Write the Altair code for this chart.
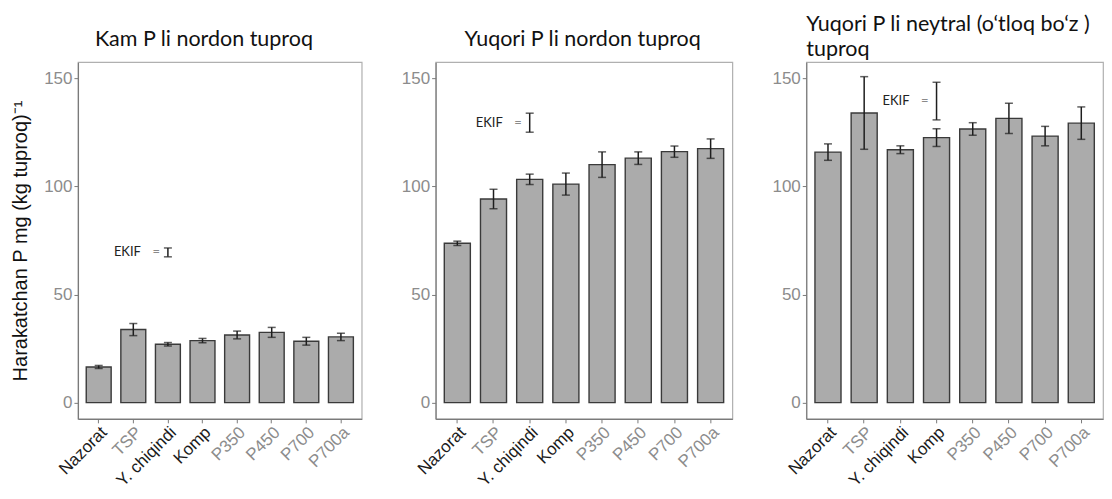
import altair as alt
import pandas as pd

# ---------------- data ----------------
categories = ["Nazorat", "TSP", "Y. chiqindi", "Komp", "P350", "P450", "P700", "P700a"]

panel_titles = [
    ["Kam P li nordon tuproq"],
    ["Yuqori P li nordon tuproq"],
    ["Yuqori P li neytral (o‘tloq bo‘z )", "tuproq"],
]

mean_low = [16.5, 33.8, 27.0, 28.7, 31.3, 32.5, 28.4, 30.4]
err_low = [0.7, 2.8, 0.8, 1.0, 1.8, 2.3, 1.8, 1.7]

mean_high = [73.7, 94.2, 103.3, 101.1, 110.1, 113.1, 116.1, 117.5]
err_high = [1.0, 4.5, 2.4, 5.1, 5.9, 2.9, 2.6, 4.5]

mean_neutral = [115.9, 134.0, 117.0, 122.6, 126.6, 131.5, 123.3, 129.3]
err_neutral = [3.8, 16.8, 1.8, 4.1, 2.9, 7.0, 4.5, 7.5]

ekif_cat = ["Y. chiqindi", "Y. chiqindi", "Komp"]
ekif_center = [69.5, 129.5, 139.5]
ekif_lsd = [4.1, 8.8, 17.4]

y_ticks = [0, 50, 100, 150]
y_title = "Harakatchan P mg (kg tuproq)⁻¹"

# ---------------- styling ----------------
panel_width = [284, 297, 297]
panel_height = 357
title_dx = [17, 29, 0]
title_dy = [10, 10, 20]

AX_FONT = "Liberation Sans"
TXT_FONT = "Lato"
label_color_expr = (
    "indexof(['Nazorat','Y. chiqindi','Komp'], datum.value) >= 0 ? '#1a1a1a' : '#8c8c8c'"
)


def make_panel(i, means, errs):
    df = pd.DataFrame({
        "cat": categories,
        "mean": means,
        "lo": [m - e for m, e in zip(means, errs)],
        "hi": [m + e for m, e in zip(means, errs)],
    })
    e = ekif_center[i]
    h = ekif_lsd[i] / 2
    de = pd.DataFrame({
        "cat": [ekif_cat[i]],
        "center": [e],
        "lo": [e - h],
        "hi": [e + h],
        "lab": ["EKIF"],
        "eq": ["="],
    })

    x = alt.X(
        "cat:N",
        sort=categories,
        scale=alt.Scale(paddingInner=0.28, paddingOuter=0.24),
        axis=alt.Axis(
            title=None,
            labelAngle=-45,
            labelAlign="right",
            labelBaseline="top",
            labelColor={"expr": label_color_expr},
            labelFontSize=17,
            labelPadding=1,
        ),
    )
    yscale = alt.Scale(domain=[-7.5, 157.5], nice=False, zero=False)
    yaxis = alt.Axis(
        values=y_ticks,
        grid=False,
        title=y_title if i == 0 else None,
        titleFont=AX_FONT,
        titleFontSize=20,
        titleFontWeight="normal",
        titleColor="#111111",
        titlePadding=11,
        minExtent=36,
        maxExtent=36,
    )

    bars = alt.Chart(df).mark_bar(
        fill="#ababab", stroke="#3a3a3a", strokeWidth=1.4
    ).encode(
        x=x,
        y=alt.Y("mean:Q", scale=yscale, axis=yaxis),
        y2=alt.datum(0),
    )
    rules = alt.Chart(df).mark_rule(color="#1e1e1e", strokeWidth=1.5).encode(
        x=alt.X("cat:N", sort=categories),
        y="lo:Q",
        y2="hi:Q",
    )
    caps = alt.Chart(df).transform_fold(["lo", "hi"], as_=["k", "v"]).mark_tick(
        color="#1e1e1e", size=8, thickness=1.5, orient="horizontal"
    ).encode(
        x=alt.X("cat:N", sort=categories),
        y="v:Q",
    )

    e_rule = alt.Chart(de).mark_rule(color="#1e1e1e", strokeWidth=1.5).encode(
        x=alt.X("cat:N", sort=categories), y="lo:Q", y2="hi:Q"
    )
    e_caps = alt.Chart(de).transform_fold(["lo", "hi"], as_=["k", "v"]).mark_tick(
        color="#1e1e1e", size=8, thickness=1.5, orient="horizontal"
    ).encode(x=alt.X("cat:N", sort=categories), y="v:Q")
    e_text = alt.Chart(de).mark_text(
        align="right", baseline="middle", dx=-27, font=TXT_FONT, fontSize=13, color="#222222"
    ).encode(x=alt.X("cat:N", sort=categories), y="center:Q", text="lab:N")
    e_eq = alt.Chart(de).mark_text(
        align="right", baseline="middle", dx=-8, font=TXT_FONT, fontSize=13, color="#8a8a8a"
    ).encode(x=alt.X("cat:N", sort=categories), y="center:Q", text="eq:N")

    return alt.layer(bars, rules, caps, e_rule, e_caps, e_text, e_eq).properties(
        width=panel_width[i],
        height=panel_height,
        title=alt.TitleParams(
            text=panel_titles[i],
            anchor="start",
            frame="group",
            dx=title_dx[i],
            dy=title_dy[i],
            offset=0,
            baseline="bottom",
            lineHeight=25,
            font=TXT_FONT,
            fontSize=21.5,
            fontWeight="normal",
            color="#111111",
        ),
    )


p1 = make_panel(0, mean_low, err_low)
p2 = make_panel(1, mean_high, err_high)
p3 = make_panel(2, mean_neutral, err_neutral)

chart = alt.hconcat(p1, p2, p3, spacing=74, bounds="flush").configure_view(
    stroke="#b0b0b0", strokeWidth=1.2
).configure_axis(
    domainColor="#7a7a7a",
    domainWidth=1.2,
    tickColor="#7a7a7a",
    tickSize=4,
    labelFont=AX_FONT,
    labelFontSize=17,
    labelColor="#8c8c8c",
    labelPadding=2,
).properties(
    padding={"left": 2, "top": 4, "right": 0, "bottom": 0}
)

chart.save("out.html", embed_options={"renderer": "svg", "actions": False})
